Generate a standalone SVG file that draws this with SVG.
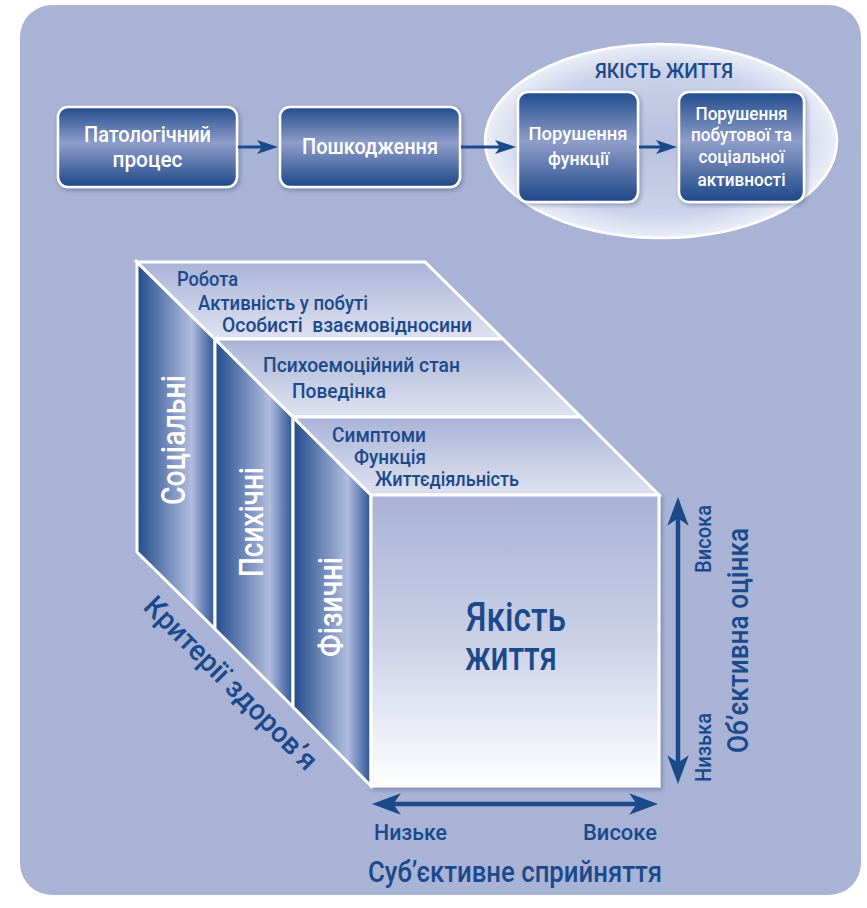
<svg xmlns="http://www.w3.org/2000/svg" width="867" height="908" viewBox="0 0 867 908">
<defs>
<style>
.f{font-family:Roboto,"Liberation Sans",Arial,sans-serif;font-weight:500}
.w{fill:#ffffff}
.n{fill:#1a4a8b}
.box{fill:url(#gBox);stroke:#ffffff;stroke-width:2.5;filter:url(#sh)}
.side{fill:url(#gSide);stroke:#ffffff;stroke-width:3;stroke-linejoin:miter}
.top{fill:url(#gTop);stroke:#ffffff;stroke-width:3;stroke-linejoin:miter}
.con{stroke:#1b4a8b;fill:none}
</style>
<linearGradient id="gBox" x1="0" y1="0" x2="0" y2="1">
<stop offset="0" stop-color="#214c8c"/>
<stop offset="0.45" stop-color="#8e9dc9"/>
<stop offset="1" stop-color="#1c4788"/>
</linearGradient>
<linearGradient id="gSide" x1="0" y1="0" x2="1" y2="0">
<stop offset="0" stop-color="#214c8c"/>
<stop offset="0.7" stop-color="#b1bcde"/>
<stop offset="1" stop-color="#2a5393"/>
</linearGradient>
<linearGradient id="gTop" x1="0" y1="0" x2="0" y2="1">
<stop offset="0" stop-color="#a9b3d6"/>
<stop offset="1" stop-color="#dfe2f1"/>
</linearGradient>
<linearGradient id="gFront" x1="0" y1="0" x2="0" y2="1">
<stop offset="0" stop-color="#a9b2d6"/>
<stop offset="0.5" stop-color="#cbd0e7"/>
<stop offset="1" stop-color="#ffffff"/>
</linearGradient>
<radialGradient id="gEll" cx="0.5" cy="0.5" r="0.5">
<stop offset="0" stop-color="#b7c0de"/>
<stop offset="0.75" stop-color="#ccd2e9"/>
<stop offset="1" stop-color="#eceef7"/>
</radialGradient>
<filter id="sh" x="-20%" y="-20%" width="140%" height="140%">
<feDropShadow dx="1.5" dy="2" stdDeviation="2" flood-color="#1b2d5a" flood-opacity="0.35"/>
</filter>
<marker id="ah" markerUnits="userSpaceOnUse" markerWidth="24" markerHeight="16" viewBox="0 -8 22 16" refX="11" refY="0" orient="auto">
<path d="M0,-7 L21,0 L0,7 L5,0 Z" fill="#1b4a8b"/>
</marker>
<marker id="ab" markerUnits="userSpaceOnUse" markerWidth="30" markerHeight="24" viewBox="0 -11 28 22" refX="12" refY="0" orient="auto-start-reverse">
<path d="M0,-10 L27,0 L0,10 L7,0 Z" fill="#1b4a8b"/>
</marker>
</defs>

<rect x="0" y="0" width="867" height="908" fill="#ffffff"/>
<rect x="20" y="5" width="841" height="890" rx="32" fill="#a8b3d5"/>

<g id="n1">
<rect class="box" x="58" y="107" width="179" height="80" rx="10"/>
<text class="f w" font-size="22" x="147.5" y="142" text-anchor="middle" textLength="127" lengthAdjust="spacingAndGlyphs">Патологічний</text>
<text class="f w" font-size="22" x="147.5" y="167" text-anchor="middle" textLength="70" lengthAdjust="spacingAndGlyphs">процес</text>
</g>

<g id="n2">
<rect class="box" x="280" y="107" width="180" height="80" rx="10"/>
<text class="f w" font-size="22" x="370" y="154" text-anchor="middle" textLength="136" lengthAdjust="spacingAndGlyphs">Пошкодження</text>
</g>

<g id="quality">
<ellipse cx="661" cy="141" rx="176" ry="97" fill="url(#gEll)" stroke="#ffffff" stroke-width="2.5"/>
<text class="f n" font-size="20" font-weight="700" x="664" y="78" text-anchor="middle" textLength="138" lengthAdjust="spacingAndGlyphs">ЯКІСТЬ ЖИТТЯ</text>
</g>

<g id="n3">
<rect class="box" x="518" y="92" width="120" height="110" rx="10"/>
<text class="f w" font-size="19" x="578" y="140" text-anchor="middle" textLength="99" lengthAdjust="spacingAndGlyphs">Порушення</text>
<text class="f w" font-size="19" x="578.5" y="165" text-anchor="middle" textLength="61" lengthAdjust="spacingAndGlyphs">функції</text>
</g>

<g id="n4">
<rect class="box" x="679" y="92" width="125" height="110" rx="10"/>
<text class="f w" font-size="18" x="741.5" y="120" text-anchor="middle" textLength="92" lengthAdjust="spacingAndGlyphs">Порушення</text>
<text class="f w" font-size="18" x="741.5" y="141" text-anchor="middle" textLength="101" lengthAdjust="spacingAndGlyphs">побутової та</text>
<text class="f w" font-size="18" x="741.5" y="163" text-anchor="middle" textLength="86" lengthAdjust="spacingAndGlyphs">соціальної</text>
<text class="f w" font-size="18" x="741.5" y="186" text-anchor="middle" textLength="88" lengthAdjust="spacingAndGlyphs">активності</text>
</g>

<g id="social">
<polygon class="side" points="137,262 215,339 215,629 137,552"/>
<polygon class="top" points="137,262 425,262 503,339 215,339"/>
<text class="f w" font-size="34" transform="translate(185,440) rotate(-90)" text-anchor="middle" textLength="130" lengthAdjust="spacingAndGlyphs">Соціальні</text>
<text class="f n" font-size="20" x="177" y="286" textLength="61" lengthAdjust="spacingAndGlyphs">Робота</text>
<text class="f n" font-size="20" x="198" y="310" textLength="170" lengthAdjust="spacingAndGlyphs">Активність у побуті</text>
<text class="f n" font-size="20" x="222" y="332" textLength="250" lengthAdjust="spacingAndGlyphs" xml:space="preserve">Особисті  взаємовідносини</text>
</g>

<g id="psychic">
<polygon class="side" points="215,339 293,417 293,707 215,629"/>
<polygon class="top" points="215,339 503,339 581,417 293,417"/>
<text class="f w" font-size="34" transform="translate(263,522) rotate(-90)" text-anchor="middle" textLength="110" lengthAdjust="spacingAndGlyphs">Психічні</text>
<text class="f n" font-size="20" x="263" y="372" textLength="197" lengthAdjust="spacingAndGlyphs">Психоемоційний стан</text>
<text class="f n" font-size="20" x="292" y="398" textLength="94" lengthAdjust="spacingAndGlyphs">Поведінка</text>
</g>

<g id="physical">
<polygon class="side" points="293,417 371,495 371,786 293,707"/>
<polygon class="top" points="293,417 581,417 659,495 371,495"/>
<text class="f w" font-size="34" transform="translate(342,607) rotate(-90)" text-anchor="middle" textLength="100" lengthAdjust="spacingAndGlyphs">Фізичні</text>
<text class="f n" font-size="19.5" x="332" y="442" textLength="94" lengthAdjust="spacingAndGlyphs">Симптоми</text>
<text class="f n" font-size="19.5" x="354" y="464" textLength="72" lengthAdjust="spacingAndGlyphs">Функція</text>
<text class="f n" font-size="19.5" x="375" y="486" textLength="144" lengthAdjust="spacingAndGlyphs">Життєдіяльність</text>
</g>

<g id="front">
<rect x="371" y="495" width="288" height="291" fill="url(#gFront)" stroke="#ffffff" stroke-width="3" filter="url(#sh)"/>
<text class="f n" font-size="40" text-anchor="middle"><tspan x="516" y="631" textLength="100" lengthAdjust="spacingAndGlyphs">Якість</tspan><tspan x="511" y="670" textLength="92" lengthAdjust="spacingAndGlyphs">життя</tspan></text>
</g>

<g id="labels">
<text class="f n" font-size="29" transform="translate(142,608) rotate(45)" textLength="232" lengthAdjust="spacingAndGlyphs">Критерії здоров’я</text>
<text class="f n" font-size="22" x="374" y="840" textLength="73" lengthAdjust="spacingAndGlyphs">Низьке</text>
<text class="f n" font-size="22" x="657" y="840" text-anchor="end" textLength="74" lengthAdjust="spacingAndGlyphs">Високе</text>
<text class="f n" font-size="29" x="368" y="882" textLength="294" lengthAdjust="spacingAndGlyphs">Суб’єктивне сприйняття</text>
<text class="f n" font-size="22" transform="translate(711,539) rotate(-90)" text-anchor="middle" textLength="68" lengthAdjust="spacingAndGlyphs">Висока</text>
<text class="f n" font-size="22" transform="translate(711,747.5) rotate(-90)" text-anchor="middle" textLength="69" lengthAdjust="spacingAndGlyphs">Низька</text>
<text class="f n" font-size="30" transform="translate(748,640.5) rotate(-90)" text-anchor="middle" textLength="225" lengthAdjust="spacingAndGlyphs">Об’єктивна оцінка</text>
</g>

<g id="connectors">
<line class="con" x1="238" y1="147" x2="268" y2="147" stroke-width="3" marker-end="url(#ah)"/>
<line class="con" x1="461" y1="147" x2="506" y2="147" stroke-width="3" marker-end="url(#ah)"/>
<line class="con" x1="639" y1="147" x2="667" y2="147" stroke-width="3" marker-end="url(#ah)"/>
<line class="con" x1="388" y1="804" x2="642" y2="804" stroke-width="4.5" marker-start="url(#ab)" marker-end="url(#ab)"/>
<line class="con" x1="678" y1="513" x2="678" y2="768" stroke-width="4.5" marker-start="url(#ab)" marker-end="url(#ab)"/>
</g>
</svg>
